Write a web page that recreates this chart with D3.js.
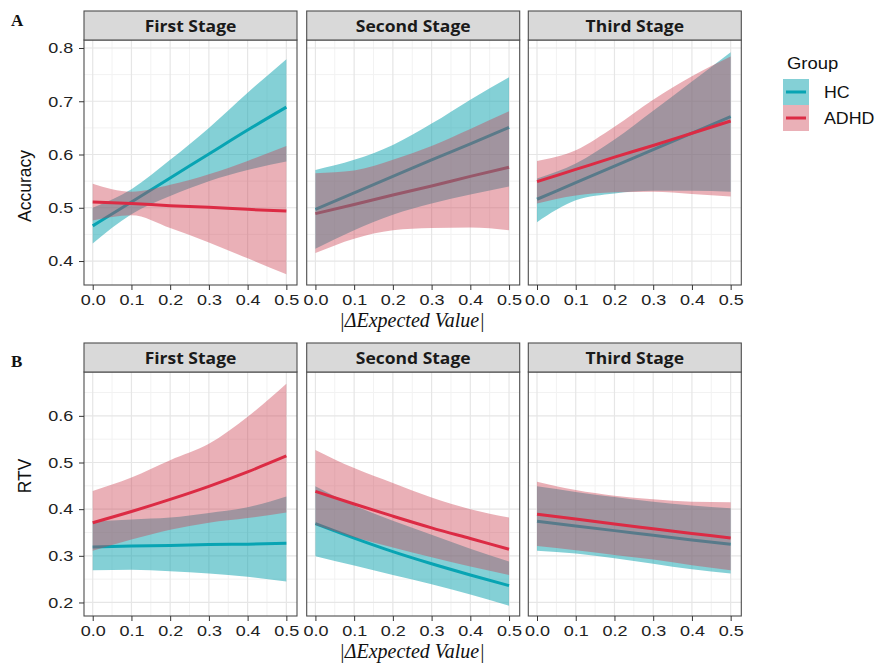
<!DOCTYPE html>
<html><head><meta charset="utf-8">
<script src="https://cdn.jsdelivr.net/npm/d3@7"></script>
<style>body{margin:0;background:#fff}</style></head>
<body><svg id="c" width="875" height="665"></svg>
<script>
// ---------- data ----------
const xValues = [0, 0.1, 0.2, 0.3, 0.4, 0.5];
const stages = ["First Stage", "Second Stage", "Third Stage"];
const groups = ["HC", "ADHD"];
const xTicks = [0, 0.1, 0.2, 0.3, 0.4, 0.5];
const accTicks = [0.4, 0.5, 0.6, 0.7, 0.8];
const rtvTicks = [0.2, 0.3, 0.4, 0.5, 0.6];

// Accuracy (panel A): one row per stage
const accHC_fit = [[0.466,0.511,0.556,0.601,0.646,0.689],[0.497,0.528,0.559,0.590,0.620,0.651],[0.516,0.547,0.578,0.609,0.640,0.671]];
const accHC_lo  = [[0.433,0.488,0.522,0.550,0.571,0.587],[0.423,0.458,0.487,0.508,0.525,0.540],[0.473,0.514,0.527,0.532,0.532,0.530]];
const accHC_hi  = [[0.500,0.535,0.590,0.650,0.716,0.779],[0.571,0.590,0.618,0.658,0.703,0.745],[0.555,0.583,0.628,0.682,0.737,0.792]];
const accADHD_fit = [[0.511,0.508,0.504,0.501,0.497,0.494],[0.489,0.506,0.524,0.541,0.559,0.576],[0.549,0.572,0.595,0.617,0.640,0.663]];
const accADHD_lo  = [[0.476,0.486,0.462,0.435,0.405,0.375],[0.415,0.442,0.458,0.462,0.463,0.458],[0.508,0.523,0.529,0.530,0.526,0.521]];
const accADHD_hi  = [[0.545,0.530,0.543,0.563,0.588,0.616],[0.565,0.570,0.590,0.616,0.648,0.681],[0.588,0.608,0.652,0.703,0.747,0.784]];

// RTV (panel B)
const rtvHC_fit = [[0.319,0.321,0.322,0.324,0.325,0.327],[0.369,0.338,0.309,0.283,0.259,0.236],[0.374,0.364,0.354,0.344,0.334,0.325]];
const rtvHC_lo  = [[0.269,0.270,0.267,0.262,0.255,0.245],[0.299,0.279,0.259,0.239,0.217,0.193],[0.311,0.305,0.295,0.283,0.271,0.262]];
const rtvHC_hi  = [[0.374,0.378,0.382,0.392,0.404,0.427],[0.449,0.408,0.375,0.345,0.315,0.288],[0.449,0.437,0.426,0.416,0.408,0.402]];
const rtvADHD_fit = [[0.371,0.395,0.421,0.449,0.480,0.514],[0.438,0.411,0.385,0.360,0.337,0.314],[0.389,0.379,0.368,0.358,0.348,0.338]];
const rtvADHD_lo  = [[0.311,0.335,0.356,0.371,0.381,0.393],[0.366,0.340,0.318,0.297,0.277,0.259],[0.321,0.312,0.302,0.292,0.280,0.269]];
const rtvADHD_hi  = [[0.439,0.468,0.505,0.540,0.598,0.669],[0.527,0.488,0.456,0.425,0.400,0.382],[0.459,0.441,0.429,0.421,0.416,0.415]];

// ---------- styling / layout ----------
const lineColor = {HC: "#08A4B3", ADHD: "#DC2B44"};
const ribbonColor = {HC: "rgb(20,164,176)", ADHD: "rgb(205,62,80)"};
const ribbonOpacity = {HC: 0.52, ADHD: 0.41};
const sansX = 1.2;

const svg = d3.select("#c");
const panelX = [84, 306.7, 528.3], panelW = 213;

const rows = [
  {label: "A", ytitle: "Accuracy", ticks: accTicks, domain: [0.355, 0.815], minor: [0.45,0.55,0.65,0.75],
   stripTop: 11, top: 40, bottom: 285, ytitleY: 186, titleBase: 327, labelBase: 26,
   data: {HC: [accHC_fit, accHC_lo, accHC_hi], ADHD: [accADHD_fit, accADHD_lo, accADHD_hi]},
   linesUnder: [false, true, false]},
  {label: "B", ytitle: "RTV", ticks: rtvTicks, domain: [0.171, 0.694], minor: [0.25,0.35,0.45,0.55,0.65],
   stripTop: 343, top: 372, bottom: 616, ytitleY: 476, titleBase: 658, labelBase: 367,
   data: {HC: [rtvHC_fit, rtvHC_lo, rtvHC_hi], ADHD: [rtvADHD_fit, rtvADHD_lo, rtvADHD_hi]},
   linesUnder: [false, false, false]}
];

const xMinor = [0.05, 0.15, 0.25, 0.35, 0.45];

rows.forEach((row, ri) => {
  const y = d3.scaleLinear().domain(row.domain).range([row.bottom, row.top]);
  stages.forEach((st, si) => {
    const x = d3.scaleLinear().domain([-0.0225, 0.5275]).range([panelX[si], panelX[si] + panelW]);
    const g = svg.append("g");
    const clipId = `clip${ri}${si}`;
    svg.append("clipPath").attr("id", clipId).append("rect")
      .attr("x", panelX[si]).attr("y", row.top).attr("width", panelW).attr("height", row.bottom - row.top);
    g.append("rect").attr("x", panelX[si]).attr("y", row.top).attr("width", panelW)
      .attr("height", row.bottom - row.top).attr("fill", "#fff");
    xMinor.forEach(v => g.append("line").attr("x1", x(v)).attr("x2", x(v)).attr("y1", row.top).attr("y2", row.bottom)
      .attr("stroke", "#F2F2F2").attr("stroke-width", 1));
    row.minor.forEach(v => g.append("line").attr("y1", y(v)).attr("y2", y(v)).attr("x1", panelX[si]).attr("x2", panelX[si] + panelW)
      .attr("stroke", "#F2F2F2").attr("stroke-width", 1));
    xTicks.forEach(v => g.append("line").attr("x1", x(v)).attr("x2", x(v)).attr("y1", row.top).attr("y2", row.bottom)
      .attr("stroke", "#E6E6E6").attr("stroke-width", 1.2));
    row.ticks.forEach(v => g.append("line").attr("y1", y(v)).attr("y2", y(v)).attr("x1", panelX[si]).attr("x2", panelX[si] + panelW)
      .attr("stroke", "#E6E6E6").attr("stroke-width", 1.2));

    const marks = g.append("g").attr("clip-path", `url(#${clipId})`);
    const area = d3.area().x((d, i) => x(xValues[i])).y0(d => y(d[0])).y1(d => y(d[1])).curve(d3.curveMonotoneX);
    const line = d3.line().x((d, i) => x(xValues[i])).y(d => y(d)).curve(d3.curveMonotoneX);
    const drawRibbon = grp => {
      const [fit, lo, hi] = row.data[grp];
      const pts = lo[si].map((v, i) => [v, hi[si][i]]);
      marks.append("path").attr("d", area(pts)).attr("fill", ribbonColor[grp]).attr("fill-opacity", ribbonOpacity[grp]);
    };
    const drawLine = grp => {
      const fit = row.data[grp][0];
      marks.append("path").attr("d", line(fit[si])).attr("fill", "none").attr("stroke", lineColor[grp])
        .attr("stroke-width", 3);
    };
    if (row.linesUnder[si]) {
      groups.forEach(drawLine); groups.forEach(drawRibbon);
    } else {
      groups.forEach(grp => { drawRibbon(grp); drawLine(grp); });
    }

    g.append("rect").attr("x", panelX[si]).attr("y", row.top).attr("width", panelW)
      .attr("height", row.bottom - row.top).attr("fill", "none").attr("stroke", "#4D4D4D").attr("stroke-width", 1.1);
    g.append("rect").attr("x", panelX[si]).attr("y", row.stripTop).attr("width", panelW)
      .attr("height", row.top - row.stripTop).attr("fill", "#D9D9D9").attr("stroke", "#4D4D4D").attr("stroke-width", 1.1);
    g.append("text").attr("transform", `translate(${panelX[si] + panelW / 2},${(row.stripTop + row.top) / 2 + 6}) scale(1.06,1)`)
      .attr("text-anchor", "middle").attr("font-family", "Open Sans, sans-serif").attr("font-weight", 700)
      .attr("font-size", 16.5).attr("fill", "#1A1A1A").text(st);

    const xa = g.append("g").attr("transform", `translate(0,${row.bottom})`)
      .call(d3.axisBottom(x).tickValues(xTicks).tickSize(5).tickPadding(4).tickFormat(d3.format(".1f")));
    xa.select(".domain").remove();
    xa.selectAll("line").attr("stroke", "#333");
    xa.selectAll("text").attr("font-family", "Liberation Sans, Arial, sans-serif").attr("font-size", 15)
      .attr("fill", "#222").attr("transform", `scale(${sansX},1)`);

    if (si === 0) {
      const ya = g.append("g").attr("transform", `translate(${panelX[0]},0)`)
        .call(d3.axisLeft(y).tickValues(row.ticks).tickSize(5).tickPadding(4).tickFormat(d3.format(".1f")));
      ya.select(".domain").remove();
      ya.selectAll("line").attr("stroke", "#333");
      ya.selectAll("text").attr("font-family", "Liberation Sans, Arial, sans-serif").attr("font-size", 15)
        .attr("fill", "#222").attr("transform", `scale(${sansX},1)`);
    }
  });

  svg.append("text").attr("transform", `translate(31,${row.ytitleY}) rotate(-90)`).attr("text-anchor", "middle")
    .attr("font-family", "Liberation Sans, Arial, sans-serif").attr("font-size", 17.5).attr("fill", "#111").text(row.ytitle);
  svg.append("text").attr("x", 412).attr("y", row.titleBase).attr("text-anchor", "middle")
    .attr("font-family", "Liberation Serif, serif").attr("font-style", "italic").attr("font-size", 20)
    .attr("fill", "#111").text("|\u0394Expected Value|");
  svg.append("text").attr("x", 11).attr("y", row.labelBase).attr("font-family", "Liberation Serif, serif")
    .attr("font-weight", 700).attr("font-size", 17).attr("fill", "#111").text(row.label);
});

// legend
const lg = svg.append("g");
lg.append("text").attr("transform", "translate(787,69) scale(1.12,1)").attr("font-family", "Liberation Sans, Arial, sans-serif")
  .attr("font-size", 16.5).attr("fill", "#111").text("Group");
groups.forEach((grp, i) => {
  const ky = 79 + i * 26;
  lg.append("rect").attr("x", 783).attr("y", ky).attr("width", 26).attr("height", 26)
    .attr("fill", ribbonColor[grp]).attr("fill-opacity", ribbonOpacity[grp]);
  lg.append("line").attr("x1", 786).attr("x2", 806).attr("y1", ky + 13).attr("y2", ky + 13)
    .attr("stroke", lineColor[grp]).attr("stroke-width", 3);
  lg.append("text").attr("transform", `translate(824,${ky + 19}) scale(1.08,1)`).attr("font-family", "Liberation Sans, Arial, sans-serif")
    .attr("font-size", 16.5).attr("fill", "#111").text(grp);
});
</script></body></html>
